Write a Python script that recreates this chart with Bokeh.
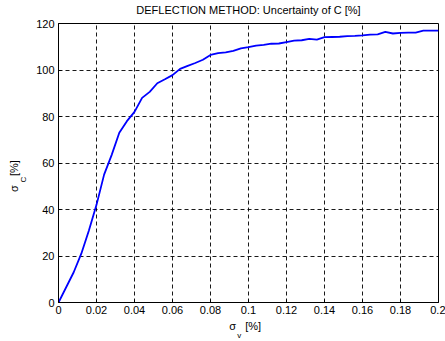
from bokeh.plotting import figure
from bokeh.models import Title, FixedTicker, Range1d, LinearAxis
from bokeh.embed import file_html
from bokeh.resources import INLINE

sigma_v = [0, 0.008, 0.012, 0.016, 0.020, 0.024, 0.028, 0.032, 0.036, 0.040,
           0.044, 0.048, 0.052, 0.056, 0.060, 0.064, 0.068, 0.072, 0.076, 0.080,
           0.084, 0.088, 0.092, 0.096, 0.100, 0.104, 0.108, 0.112, 0.116, 0.120,
           0.124, 0.128, 0.132, 0.136, 0.140, 0.144, 0.148, 0.152, 0.156, 0.160,
           0.164, 0.168, 0.172, 0.176, 0.180, 0.184, 0.188, 0.192, 0.196, 0.200]
sigma_c = [0, 13, 21, 31, 42, 55, 63.5, 73, 78, 82,
           88, 90.6, 94.3, 96, 97.8, 100.5, 101.8, 103, 104.4, 106.5,
           107.3, 107.6, 108.2, 109.3, 109.8, 110.5, 110.8, 111.3, 111.4, 112,
           112.6, 112.8, 113.4, 113.1, 114.1, 114.2, 114.3, 114.6, 114.7, 114.9,
           115.2, 115.3, 116.4, 115.7, 116, 116.1, 116.1, 116.9, 116.9, 116.9]

x_ticks = [0, 0.02, 0.04, 0.06, 0.08, 0.1, 0.12, 0.14, 0.16, 0.18, 0.2]
x_tick_labels = ["0", "0.02", "0.04", "0.06", "0.08", "0.1", "0.12", "0.14", "0.16", "0.18", "0.2"]
y_ticks = [0, 20, 40, 60, 80, 100, 120]

title_text = "DEFLECTION METHOD: Uncertainty of C [%]"
NB = "\u00a0"
xlabel_main = "σ" + NB * 3 + "[%]"
xlabel_sub = "v"
ylabel_main = "σ" + NB * 3 + "[%]"
ylabel_sub = "C"
FONT = "Liberation Sans"

p = figure(width=445, height=341, output_backend="svg", toolbar_location=None,
           x_range=Range1d(0, 0.2), y_range=Range1d(0, 120),
           min_border_left=58, min_border_right=7, min_border_top=21, min_border_bottom=39)
p.title.visible = False
p.background_fill_color = "white"
p.border_fill_color = "white"
p.outline_line_color = "black"
p.outline_line_width = 1
p.outline_line_alpha = 1

p.line(sigma_v, sigma_c, line_color="#0000ff", line_width=1.8)

for ax in (p.xaxis[0], p.yaxis[0]):
    ax.axis_line_color = "black"
    ax.major_tick_in = 3
    ax.major_tick_out = 0
    ax.minor_tick_line_color = None
    ax.major_label_text_font = FONT
    ax.major_label_text_font_size = "11px"
    ax.major_label_text_color = "black"
    ax.major_tick_line_color = "black"

p.xaxis[0].ticker = FixedTicker(ticks=x_ticks)
p.xaxis[0].major_label_overrides = {t: l for t, l in zip(x_ticks, x_tick_labels)}
p.xaxis[0].major_label_standoff = 3
p.yaxis[0].ticker = FixedTicker(ticks=y_ticks)
p.yaxis[0].major_label_standoff = 4

for g in (p.xgrid[0], p.ygrid[0]):
    g.grid_line_color = "black"
    g.grid_line_dash = "4 3"
    g.grid_line_width = 1
    g.grid_line_alpha = 0.9

# title drawn as the label of a bare top axis
top = LinearAxis(ticker=FixedTicker(ticks=[]), axis_line_color=None, major_tick_out=0,
                 major_tick_in=0, major_label_standoff=0, axis_label=title_text,
                 axis_label_text_font=FONT, axis_label_text_font_size="11px",
                 axis_label_text_font_style="normal", axis_label_text_color="black",
                 axis_label_standoff=8)
p.add_layout(top, "above")

def ttl(text, size, offset, standoff):
    return Title(text=text, text_font=FONT, text_font_size=size, text_font_style="normal",
                 text_color="black", align="left", vertical_align="middle",
                 offset=offset, standoff=standoff)

# y label: subscript first (closest to the axis), then main text
p.add_layout(ttl(ylabel_sub, "8px", 120.0, 8.7), "left")
p.add_layout(ttl(ylabel_main, "11px", 110.5, -33.5), "left")
# x label
p.add_layout(ttl(xlabel_main, "11px", 170.8, 5.3), "below")
p.add_layout(ttl(xlabel_sub, "8px", 178.7, -32.0), "below")

open("out.html", "w").write(file_html(p, INLINE))
